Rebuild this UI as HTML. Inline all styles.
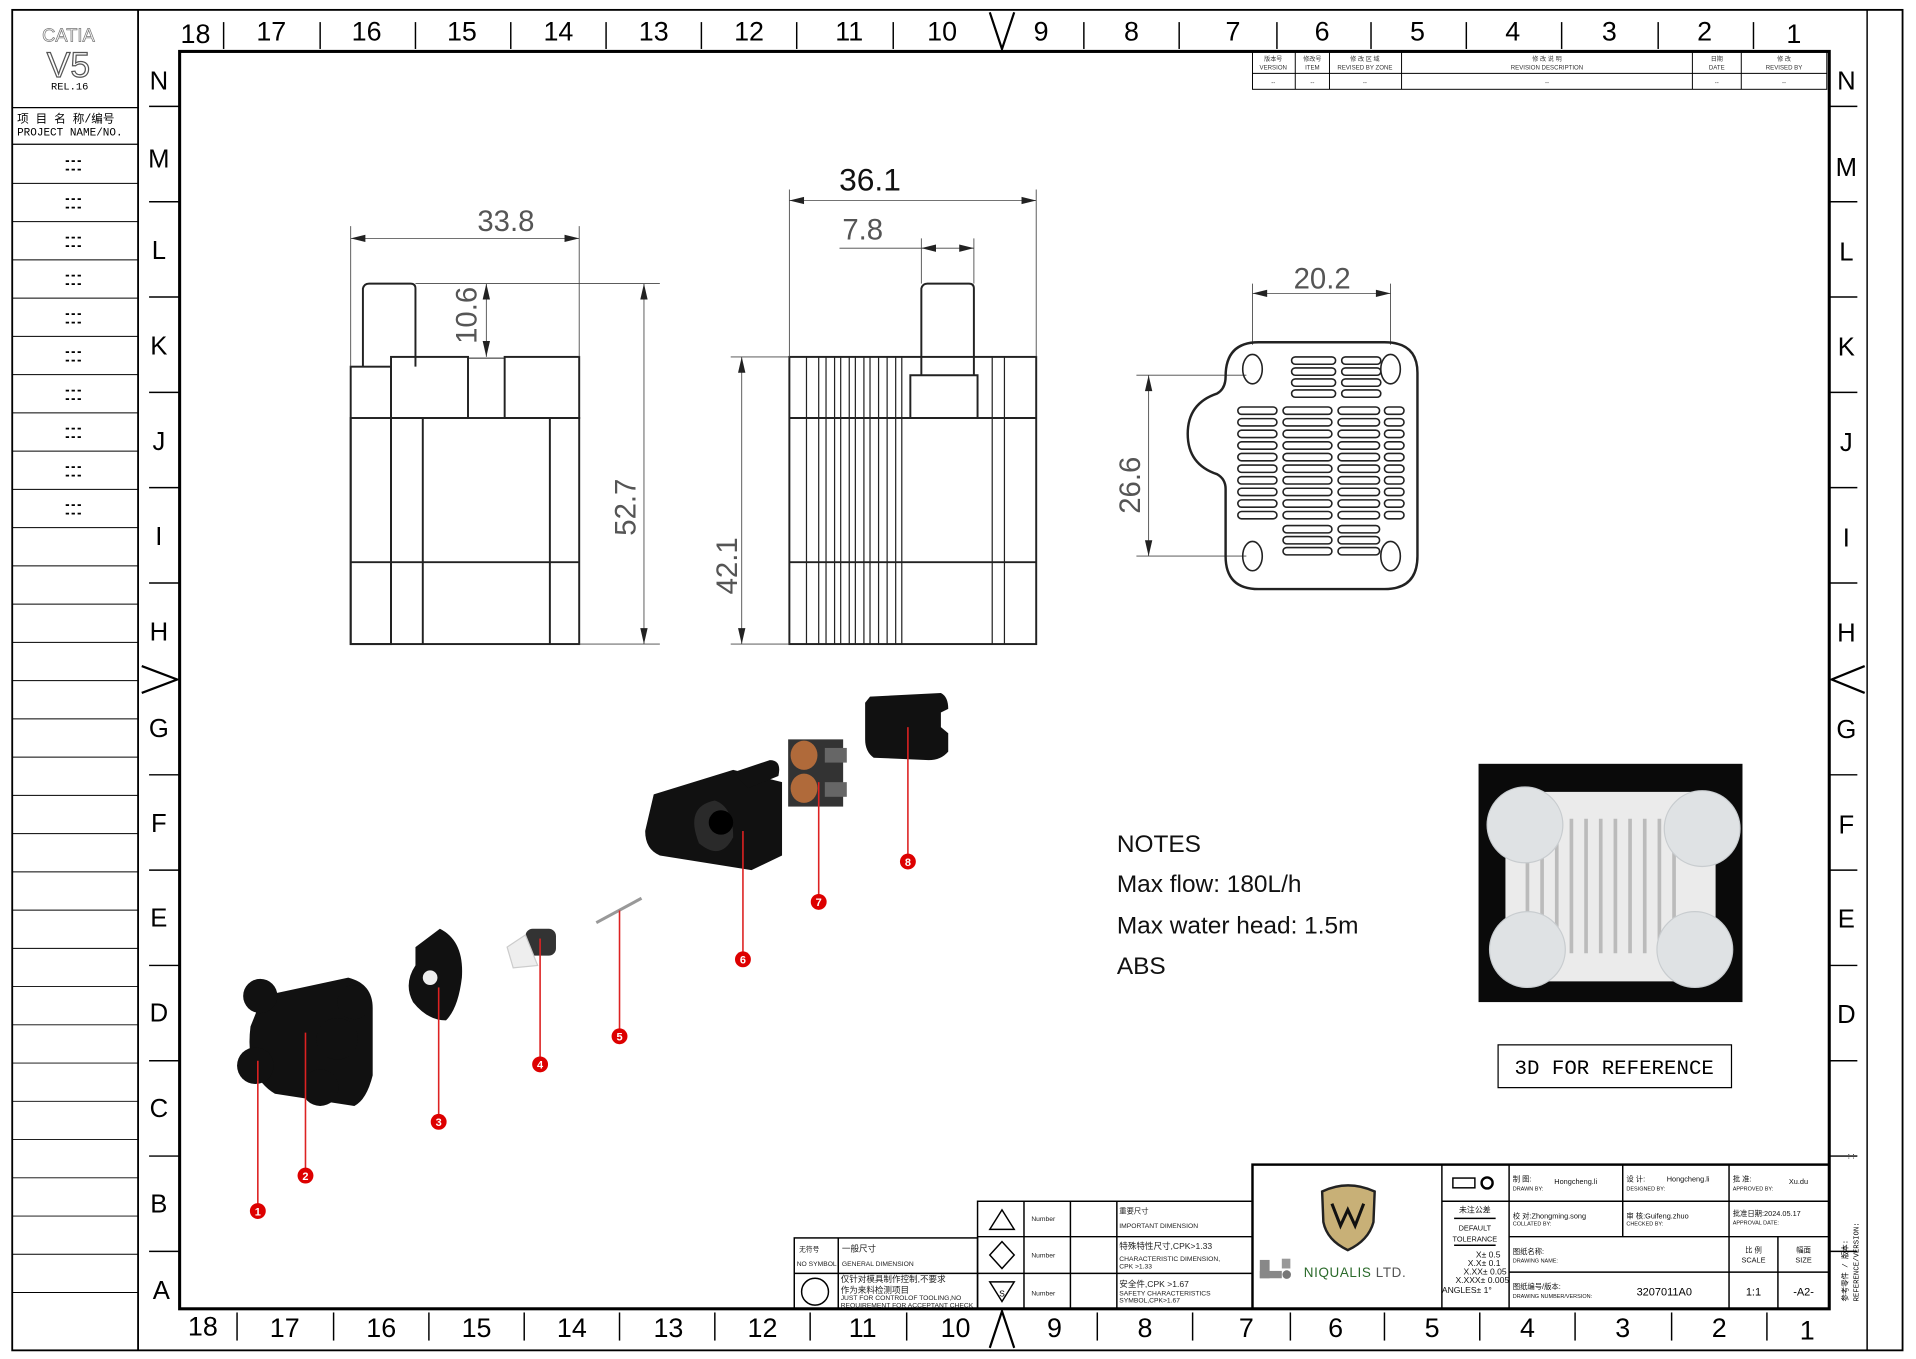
<!DOCTYPE html>
<html><head><meta charset="utf-8"><style>
html,body{margin:0;padding:0;background:#fff;}
svg{display:block;}
text{font-family:"Liberation Sans","Noto Sans CJK SC",sans-serif;}
.m{font-family:"Liberation Mono","Noto Sans CJK SC",monospace;}
.dim{font-family:"DejaVu Sans","Liberation Sans",sans-serif;fill:#555;font-weight:200;}
</style></head><body>
<svg width="1916" height="1359" viewBox="0 0 1568 1112" xmlns="http://www.w3.org/2000/svg">
<rect width="1568" height="1112" fill="#fff"/>
<g fill="none" stroke="#000">
<rect x="10" y="8" width="1547" height="1097" stroke-width="1.5"/>
<line x1="113" y1="8" x2="113" y2="1105" stroke-width="1.5"/>
<line x1="1528" y1="8" x2="1528" y2="1105" stroke-width="1.2"/>
<rect x="147" y="42" width="1350" height="1029" stroke-width="2.5"/>
<!-- left panel rows -->
<line x1="10" y1="88" x2="113" y2="88"/>
<line x1="10" y1="118" x2="113" y2="118"/>
</g>
<g stroke="#000" stroke-width="0.8" id="rows"></g>
<text x="56" y="34" text-anchor="middle" font-size="15" fill="#fff" stroke="#777" stroke-width="0.6">CATIA</text>
<text x="56" y="63" text-anchor="middle" font-size="29" fill="#fff" stroke="#555" stroke-width="1">V5</text>
<text x="57" y="73" text-anchor="middle" font-size="8.5" class="m">REL.16</text>
<text x="14" y="100" font-size="9.5" class="m">项 目 名 称/编号</text>
<text x="14" y="111" font-size="9" class="m">PROJECT NAME/NO.</text>

<!-- rulers -->
<g font-size="22" text-anchor="middle" fill="#000">
<text x="160" y="35">18</text><text x="222" y="33">17</text><text x="300" y="33">16</text><text x="378" y="33">15</text><text x="457" y="33">14</text><text x="535" y="33">13</text><text x="613" y="33">12</text><text x="695" y="33">11</text><text x="771" y="33">10</text><text x="852" y="33">9</text><text x="926" y="33">8</text><text x="1009" y="33">7</text><text x="1082" y="33">6</text><text x="1160" y="33">5</text><text x="1238" y="33">4</text><text x="1317" y="33">3</text><text x="1395" y="33">2</text><text x="1468" y="35">1</text>
<text x="166" y="1093">18</text><text x="233" y="1094">17</text><text x="312" y="1094">16</text><text x="390" y="1094">15</text><text x="468" y="1094">14</text><text x="547" y="1094">13</text><text x="624" y="1094">12</text><text x="706" y="1094">11</text><text x="782" y="1094">10</text><text x="863" y="1094">9</text><text x="937" y="1094">8</text><text x="1020" y="1094">7</text><text x="1093" y="1094">6</text><text x="1172" y="1094">5</text><text x="1250" y="1094">4</text><text x="1328" y="1094">3</text><text x="1407" y="1094">2</text><text x="1479" y="1096">1</text>
</g>
<g font-size="21" text-anchor="middle">
<text x="130" y="73">N</text><text x="130" y="137">M</text><text x="130" y="212">L</text><text x="130" y="290">K</text><text x="130" y="368">J</text><text x="130" y="446">I</text><text x="130" y="524">H</text><text x="130" y="603">G</text><text x="130" y="681">F</text><text x="130" y="758">E</text><text x="130" y="836">D</text><text x="130" y="914">C</text><text x="130" y="992">B</text><text x="132" y="1063">A</text>
<text x="1511" y="73">N</text><text x="1511" y="144">M</text><text x="1511" y="213">L</text><text x="1511" y="291">K</text><text x="1511" y="369">J</text><text x="1511" y="447">I</text><text x="1511" y="525">H</text><text x="1511" y="604">G</text><text x="1511" y="682">F</text><text x="1511" y="759">E</text><text x="1511" y="837">D</text>
</g>
<g stroke="#000" stroke-width="1.2" id="ticks"></g>
<!-- center triangles -->
<g fill="none" stroke="#000" stroke-width="1.8">
<polyline points="810,10 820,40 830,10"/>
<polyline points="810,1103 820,1073 830,1103"/>
<polyline points="116,545 145,556 116,567"/>
<polyline points="1526,545 1499,556 1526,567"/>
</g>

<!-- revision table -->
<g fill="none" stroke="#000" stroke-width="0.8">
<rect x="1025" y="42" width="470" height="31"/>
<line x1="1025" y1="60" x2="1495" y2="60"/>
<line x1="1060" y1="42" x2="1060" y2="73"/><line x1="1088" y1="42" x2="1088" y2="73"/><line x1="1147" y1="42" x2="1147" y2="73"/><line x1="1385" y1="42" x2="1385" y2="73"/><line x1="1425" y1="42" x2="1425" y2="73"/>
</g>
<g font-size="5" text-anchor="middle" class="m" fill="#333">
<text x="1042" y="50">版本号</text><text x="1042" y="57">VERSION</text>
<text x="1074" y="50">修改号</text><text x="1074" y="57">ITEM</text>
<text x="1117" y="50">修 改 区 域</text><text x="1117" y="57">REVISED BY ZONE</text>
<text x="1266" y="50">修 改 说 明</text><text x="1266" y="57">REVISION DESCRIPTION</text>
<text x="1405" y="50">日期</text><text x="1405" y="57">DATE</text>
<text x="1460" y="50">修 改</text><text x="1460" y="57">REVISED BY</text>
<text x="1042" y="69">--</text><text x="1074" y="69">--</text><text x="1117" y="69">--</text><text x="1266" y="69">--</text><text x="1405" y="69">--</text><text x="1460" y="69">--</text>
</g>

<!-- front view -->
<g fill="none" stroke="#222" stroke-width="1.6">
<path d="M297,300 L297,236 Q298,232 302,232 L336,232 Q340,232 340,236 L340,300"/>
<rect x="287" y="300" width="33" height="227"/>
<rect x="320" y="292" width="63" height="50"/>
<rect x="413" y="292" width="61" height="50"/>
<line x1="383" y1="293" x2="413" y2="293" stroke-width="0.8"/>
<rect x="287" y="342" width="187" height="185"/>
<line x1="287" y1="460" x2="474" y2="460"/>
<line x1="320" y1="342" x2="320" y2="527"/><line x1="346" y1="342" x2="346" y2="527"/><line x1="450" y1="342" x2="450" y2="527"/>
</g>
<!-- side view -->
<g fill="none" stroke="#222" stroke-width="1.6">
<path d="M754,307 L754,236 Q755,232 759,232 L793,232 Q797,232 797,236 L797,307"/>
<rect x="646" y="292" width="202" height="235"/>
<line x1="646" y1="342" x2="848" y2="342"/><line x1="646" y1="460" x2="848" y2="460"/>
<polyline points="745,342 745,307 800,307 800,342"/>
</g>
<g stroke="#222" stroke-width="1">
<line x1="660" y1="292" x2="660" y2="527"/><line x1="670" y1="292" x2="670" y2="527"/><line x1="676" y1="292" x2="676" y2="527"/><line x1="683" y1="292" x2="683" y2="527"/><line x1="688" y1="292" x2="688" y2="527"/><line x1="695" y1="292" x2="695" y2="527"/><line x1="700" y1="292" x2="700" y2="527"/><line x1="707" y1="292" x2="707" y2="527"/><line x1="712" y1="292" x2="712" y2="527"/><line x1="719" y1="292" x2="719" y2="527"/><line x1="726" y1="292" x2="726" y2="527"/><line x1="733" y1="292" x2="733" y2="527"/><line x1="738" y1="292" x2="738" y2="527"/>
<line x1="812" y1="292" x2="812" y2="527"/><line x1="822" y1="292" x2="822" y2="527"/>
</g>
<!-- dimensions -->
<g stroke="#444" stroke-width="0.7" fill="none">
<line x1="287" y1="185" x2="287" y2="300"/><line x1="474" y1="185" x2="474" y2="292"/><line x1="287" y1="195" x2="474" y2="195"/>
<line x1="340" y1="232" x2="540" y2="232"/><line x1="474" y1="527" x2="540" y2="527"/><line x1="527" y1="232" x2="527" y2="527"/>
<line x1="398" y1="232" x2="398" y2="292"/>
<line x1="646" y1="155" x2="646" y2="292"/><line x1="848" y1="155" x2="848" y2="292"/><line x1="646" y1="164" x2="848" y2="164"/>
<line x1="754" y1="195" x2="754" y2="232"/><line x1="797" y1="195" x2="797" y2="232"/><line x1="687" y1="203" x2="754" y2="203"/><line x1="754" y1="203" x2="797" y2="203"/>
<line x1="598" y1="292" x2="646" y2="292"/><line x1="598" y1="527" x2="646" y2="527"/><line x1="607" y1="292" x2="607" y2="527"/>
<line x1="1025" y1="232" x2="1025" y2="282"/><line x1="1138" y1="232" x2="1138" y2="282"/><line x1="1025" y1="240" x2="1138" y2="240"/>
<line x1="930" y1="307" x2="1020" y2="307"/><line x1="930" y1="455" x2="1020" y2="455"/><line x1="940" y1="307" x2="940" y2="455"/>
</g>
<g fill="#222">
<polygon points="287,195 299,192 299,198"/><polygon points="474,195 462,192 462,198"/>
<polygon points="527,232 524,245 530,245"/><polygon points="527,527 524,514 530,514"/>
<polygon points="398,232 395,245 401,245"/><polygon points="398,292 395,279 401,279"/>
<polygon points="646,164 658,161 658,167"/><polygon points="848,164 836,161 836,167"/>
<polygon points="754,203 766,200 766,206"/><polygon points="797,203 785,200 785,206"/>
<polygon points="607,292 604,305 610,305"/><polygon points="607,527 604,514 610,514"/>
<polygon points="1025,240 1037,237 1037,243"/><polygon points="1138,240 1126,237 1126,243"/>
<polygon points="940,307 937,320 943,320"/><polygon points="940,455 937,442 943,442"/>
</g>
<g class="dim" font-size="24" text-anchor="middle">
<text x="414" y="189">33.8</text>
<text x="706" y="196">7.8</text>
<text x="1082" y="236">20.2</text>
<text transform="translate(390,258) rotate(-90)">10.6</text>
<text transform="translate(520,415) rotate(-90)">52.7</text>
<text transform="translate(603,463) rotate(-90)">42.1</text>
<text transform="translate(933,397) rotate(-90)">26.6</text>
</g>
<text x="712" y="156" font-size="26" text-anchor="middle" fill="#111">36.1</text>

<!-- right view -->
<path d="M1030,280 L1133,280 Q1160,280 1160,305 L1160,455 Q1160,482 1133,482 L1030,482 Q1003,482 1003,455 L1003,400 Q1003,392 996,388 Q972,380 972,355 Q972,330 996,322 Q1003,318 1003,308 Q1003,280 1030,280 Z" fill="none" stroke="#222" stroke-width="2"/>
<g fill="none" stroke="#222" stroke-width="1.3" id="slots"></g>
<g fill="none" stroke="#222" stroke-width="1.3">
<ellipse cx="1025" cy="302" rx="8" ry="12"/><ellipse cx="1138" cy="302" rx="8" ry="12"/><ellipse cx="1025" cy="455" rx="8" ry="12"/><ellipse cx="1138" cy="455" rx="8" ry="12"/>
</g>

<!-- exploded view -->
<g fill="#111">
<!-- part 1/2 -->
<path d="M215,815 L285,800 Q305,805 305,825 L305,880 Q300,900 290,905 L225,895 Q200,880 205,840 Z"/>
<circle cx="213" cy="815" r="14"/><circle cx="276" cy="850" r="17"/><circle cx="209" cy="872" r="15"/><circle cx="262" cy="890" r="15"/><circle cx="290" cy="820" r="14"/>
<!-- part 3 -->
<path d="M340,775 L360,760 Q380,770 378,800 Q375,825 365,835 Q350,835 338,820 Q330,805 340,790 Z"/>
<!-- part 4 -->
<rect x="430" y="760" width="25" height="22" rx="6" fill="#333"/>
<!-- part 6 -->
<path d="M535,650 L600,630 L640,640 L640,700 L615,712 L540,700 Q528,695 528,680 Z"/>
<path d="M600,632 L630,622 Q640,622 637,635 L612,645 Z"/>
<!-- part 8 -->
<path d="M712,570 L770,567 Q776,570 776,580 L770,583 L770,595 L776,600 L776,615 Q770,622 760,622 L715,620 Q708,615 708,605 L708,575 Z"/>
</g>
<circle cx="352" cy="800" r="6" fill="#eee"/>
<path d="M415,775 L430,765 L440,790 L420,792 Z" fill="#eee" stroke="#ccc"/>
<line x1="488" y1="755" x2="525" y2="735" stroke="#999" stroke-width="2.5"/>
<path d="M572,690 Q560,660 585,655 Q600,660 600,685 Q590,705 572,690 Z" fill="#2a2a2a"/>
<circle cx="590" cy="673" r="10" fill="#000"/>
<rect x="645" y="605" width="45" height="55" fill="#333"/>
<ellipse cx="658" cy="618" rx="11" ry="12" fill="#b06a3a"/><ellipse cx="658" cy="645" rx="11" ry="12" fill="#b06a3a"/>
<rect x="675" y="612" width="18" height="12" fill="#666"/><rect x="675" y="640" width="18" height="12" fill="#666"/>
<g stroke="#d22" stroke-width="1.3">
<line x1="211" y1="868" x2="211" y2="985"/><line x1="250" y1="845" x2="250" y2="956"/><line x1="359" y1="808" x2="359" y2="912"/><line x1="442" y1="768" x2="442" y2="865"/><line x1="507" y1="745" x2="507" y2="842"/><line x1="608" y1="680" x2="608" y2="779"/><line x1="670" y1="640" x2="670" y2="732"/><line x1="743" y1="595" x2="743" y2="699"/>
</g>
<g fill="#d00"><circle cx="211" cy="991" r="6.5"/><circle cx="250" cy="962" r="6.5"/><circle cx="359" cy="918" r="6.5"/><circle cx="442" cy="871" r="6.5"/><circle cx="507" cy="848" r="6.5"/><circle cx="608" cy="785" r="6.5"/><circle cx="670" cy="738" r="6.5"/><circle cx="743" cy="705" r="6.5"/></g>
<g fill="#fff" font-size="9" font-weight="bold" text-anchor="middle">
<text x="211" y="994.5">1</text><text x="250" y="965.5">2</text><text x="359" y="921.5">3</text><text x="442" y="874.5">4</text><text x="507" y="851.5">5</text><text x="608" y="788.5">6</text><text x="670" y="741.5">7</text><text x="743" y="708.5">8</text>
</g>

<!-- notes -->
<g font-size="20" fill="#111">
<text x="914" y="697">NOTES</text><text x="914" y="730">Max flow: 180L/h</text><text x="914" y="764">Max water head: 1.5m</text><text x="914" y="797">ABS</text>
</g>
<!-- photo -->
<rect x="1210" y="625" width="216" height="195" fill="#0a0a0a"/>
<rect x="1232" y="648" width="172" height="155" rx="15" fill="#ebebeb"/>
<g stroke="#bbb" stroke-width="3"><line x1="1250" y1="670" x2="1250" y2="780"/><line x1="1262" y1="670" x2="1262" y2="780"/><line x1="1274" y1="670" x2="1274" y2="780"/><line x1="1286" y1="670" x2="1286" y2="780"/><line x1="1298" y1="670" x2="1298" y2="780"/><line x1="1310" y1="670" x2="1310" y2="780"/><line x1="1322" y1="670" x2="1322" y2="780"/><line x1="1334" y1="670" x2="1334" y2="780"/><line x1="1346" y1="670" x2="1346" y2="780"/><line x1="1358" y1="670" x2="1358" y2="780"/><line x1="1370" y1="670" x2="1370" y2="780"/></g>
<g fill="#dfe2e4" stroke="#c8cccf"><circle cx="1248" cy="675" r="31"/><circle cx="1393" cy="678" r="31"/><circle cx="1250" cy="777" r="31"/><circle cx="1387" cy="777" r="31"/></g>
<rect x="1226" y="855" width="191" height="35" fill="none" stroke="#000" stroke-width="1"/>
<text x="1321" y="879" font-size="17" text-anchor="middle" class="m">3D FOR REFERENCE</text>

<!-- note tables -->
<g fill="none" stroke="#000" stroke-width="1.2">
<rect x="650" y="1013" width="150" height="58"/><line x1="650" y1="1042" x2="800" y2="1042"/><line x1="686" y1="1013" x2="686" y2="1071"/>
<rect x="800" y="983" width="225" height="88"/><line x1="800" y1="1012" x2="1025" y2="1012"/><line x1="800" y1="1042" x2="1025" y2="1042"/>
<line x1="838" y1="983" x2="838" y2="1071"/><line x1="876" y1="983" x2="876" y2="1071"/><line x1="914" y1="983" x2="914" y2="1071"/>
<polygon points="810,1006 820,990 830,1006"/><polygon points="820,1016 830,1027 820,1038 810,1027"/><polygon points="810,1049 830,1049 820,1065"/>
<circle cx="667" cy="1057" r="11"/>
</g>
<text x="820" y="1061" font-size="7" text-anchor="middle">S</text>
<g font-size="5.5" class="m" fill="#222">
<text x="654" y="1024">无符号</text><text x="652" y="1036">NO SYMBOL</text>
<text x="689" y="1024" font-size="7">一般尺寸</text><text x="689" y="1036">GENERAL DIMENSION</text>
<text x="688" y="1049" font-size="7">仅针对模具制作控制,不要求</text><text x="688" y="1058" font-size="7">作为来料检测项目</text><text x="688" y="1064">JUST FOR CONTROLOF TOOLING,NO</text><text x="688" y="1070">REQUIREMENT FOR ACCEPTANT CHECK</text>
<text x="844" y="999">Number</text><text x="844" y="1029">Number</text><text x="844" y="1060">Number</text>
<text x="916" y="993" font-size="6">重要尺寸</text><text x="916" y="1005">IMPORTANT DIMENSION</text>
<text x="916" y="1022" font-size="7">特殊特性尺寸,CPK&gt;1.33</text><text x="916" y="1032">CHARACTERISTIC DIMENSION,</text><text x="916" y="1038">CPK &gt;1.33</text>
<text x="916" y="1053" font-size="7">安全件,CPK &gt;1.67</text><text x="916" y="1060">SAFETY CHARACTERISTICS</text><text x="916" y="1066">SYMBOL,CPK&gt;1.67</text>
</g>

<!-- title block -->
<g fill="none" stroke="#000" stroke-width="1.2">
<rect x="1025" y="953" width="472" height="118" stroke-width="2"/>
<line x1="1180" y1="953" x2="1180" y2="1071"/><line x1="1235" y1="953" x2="1235" y2="1071"/>
<line x1="1180" y1="983" x2="1497" y2="983"/><line x1="1235" y1="1012" x2="1497" y2="1012"/><line x1="1235" y1="1041" x2="1497" y2="1041"/>
<line x1="1328" y1="953" x2="1328" y2="1012"/><line x1="1415" y1="953" x2="1415" y2="1071"/><line x1="1455" y1="1012" x2="1455" y2="1071"/>
<line x1="1190" y1="997" x2="1224" y2="997"/><line x1="1190" y1="1019" x2="1224" y2="1019"/>
<rect x="1189" y="964" width="18" height="8"/><circle cx="1217" cy="968" r="4.5" stroke-width="2"/>
</g>
<path d="M1082,975 Q1103,965 1125,975 L1124,1000 Q1120,1015 1103,1023 Q1086,1015 1083,1000 Z" fill="#c8b077" stroke="#222" stroke-width="2"/>
<polyline points="1090,985 1097,1003 1103,990 1109,1003 1116,985" fill="none" stroke="#111" stroke-width="2.5"/>
<rect x="1031" y="1031" width="8" height="15" fill="#888"/><rect x="1031" y="1040" width="18" height="6" fill="#888"/><circle cx="1053" cy="1043" r="3.5" fill="#777"/><rect x="1049" y="1030" width="7" height="8" fill="#999"/>
<text x="1067" y="1045" font-size="11" fill="#2a6a2a" letter-spacing="0.5">NIQUALIS <tspan fill="#555">LTD.</tspan></text>
<g font-size="6" class="m" fill="#111">
<text x="1207" y="992" text-anchor="middle" font-size="6.5">未注公差</text>
<text x="1207" y="1007" text-anchor="middle">DEFAULT</text><text x="1207" y="1016" text-anchor="middle">TOLERANCE</text>
<text x="1228" y="1029" text-anchor="end" font-size="7">X± 0.5</text><text x="1228" y="1036" text-anchor="end" font-size="7">X.X± 0.1</text><text x="1233" y="1043" text-anchor="end" font-size="7">X.XX± 0.05</text><text x="1235" y="1050" text-anchor="end" font-size="7">X.XXX± 0.005</text><text x="1180" y="1058" font-size="7">ANGLES± 1°</text>
<text x="1238" y="967">制 图:</text><text x="1272" y="969">Hongcheng.li</text><text x="1238" y="974" font-size="4.5">DRAWN BY:</text>
<text x="1331" y="967">设  计:</text><text x="1364" y="967">Hongcheng.li</text><text x="1331" y="974" font-size="4.5">DESIGNED BY:</text>
<text x="1418" y="967">批  准:</text><text x="1464" y="969">Xu.du</text><text x="1418" y="974" font-size="4.5">APPROVED BY:</text>
<text x="1238" y="997">校 对:Zhongming.song</text><text x="1238" y="1003" font-size="4.5">COLLATED BY:</text>
<text x="1331" y="997">审  核:Guifeng.zhuo</text><text x="1331" y="1003" font-size="4.5">CHECKED BY:</text>
<text x="1418" y="995">批准日期:2024.05.17</text><text x="1418" y="1002" font-size="4.5">APPROVAL DATE:</text>
<text x="1238" y="1026">图纸名称:</text><text x="1238" y="1033" font-size="4.5">DRAWING NAME:</text>
<text x="1238" y="1055">图纸编号/版本:</text><text x="1238" y="1062" font-size="4.5">DRAWING NUMBER/VERSION:</text>
<text x="1435" y="1025" text-anchor="middle">比 例</text><text x="1435" y="1033" text-anchor="middle">SCALE</text>
<text x="1476" y="1025" text-anchor="middle">幅面</text><text x="1476" y="1033" text-anchor="middle">SIZE</text>
</g>
<text x="1362" y="1060" font-size="9" text-anchor="middle">3207011A0</text>
<text x="1435" y="1060" font-size="9" text-anchor="middle">1:1</text>
<text x="1476" y="1060" font-size="9" text-anchor="middle">-A2-</text>
<text transform="translate(1512,1065) rotate(-90)" font-size="6" class="m">参考零件 / 版本:</text>
<text transform="translate(1521,1065) rotate(-90)" font-size="6" class="m">REFERENCE/VERSION:</text>
<text x="1512" y="948" font-size="7">: :</text>

<script>
(function(){
var ns="http://www.w3.org/2000/svg";
function ln(g,x1,y1,x2,y2){var l=document.createElementNS(ns,"line");l.setAttribute("x1",x1);l.setAttribute("y1",y1);l.setAttribute("x2",x2);l.setAttribute("y2",y2);g.appendChild(l);}
var r=document.getElementById("rows");
for(var y=150;y<1072;y+=31.3){ln(r,10,y,113,y);}
var t=document.createElementNS(ns,"g");
for(var y2=134;y2<425;y2+=31.3){var tx=document.createElementNS(ns,"text");tx.setAttribute("x",60);tx.setAttribute("y",y2);tx.setAttribute("font-size","8");tx.setAttribute("text-anchor","middle");tx.textContent="- - -";r.appendChild(tx);var tx2=tx.cloneNode(true);tx2.setAttribute("y",y2+7);r.appendChild(tx2);}
var k=document.getElementById("ticks");
[183,262,340,418,496,574,652,731,887,965,1045,1122,1200,1278,1357,1435].forEach(function(x){ln(k,x,18,x,40);});
[194,273,351,429,507,585,663,742,898,976,1056,1133,1211,1289,1368,1446].forEach(function(x){ln(k,x,1074,x,1097);});
[87,165,243,321,399,477,634,712,790,868,946,1024].forEach(function(y){ln(k,122,y,147,y);ln(k,1497,y,1520,y);});
var s=document.getElementById("slots");
function pill(x,y,w){var p=document.createElementNS(ns,"rect");p.setAttribute("x",x);p.setAttribute("y",y);p.setAttribute("width",w);p.setAttribute("height",6);p.setAttribute("rx",3);s.appendChild(p);}
for(var i=0;i<4;i++){pill(1057,292+i*9,36);pill(1098,292+i*9,32);}
for(var j=0;j<10;j++){var yy=333+j*9.5;pill(1013,yy,32);pill(1050,yy,40);pill(1095,yy,34);pill(1133,yy,16);}
for(var m=0;m<3;m++){pill(1050,430+m*9,40);pill(1095,430+m*9,34);}
})();
</script>
</svg>
</body></html>
